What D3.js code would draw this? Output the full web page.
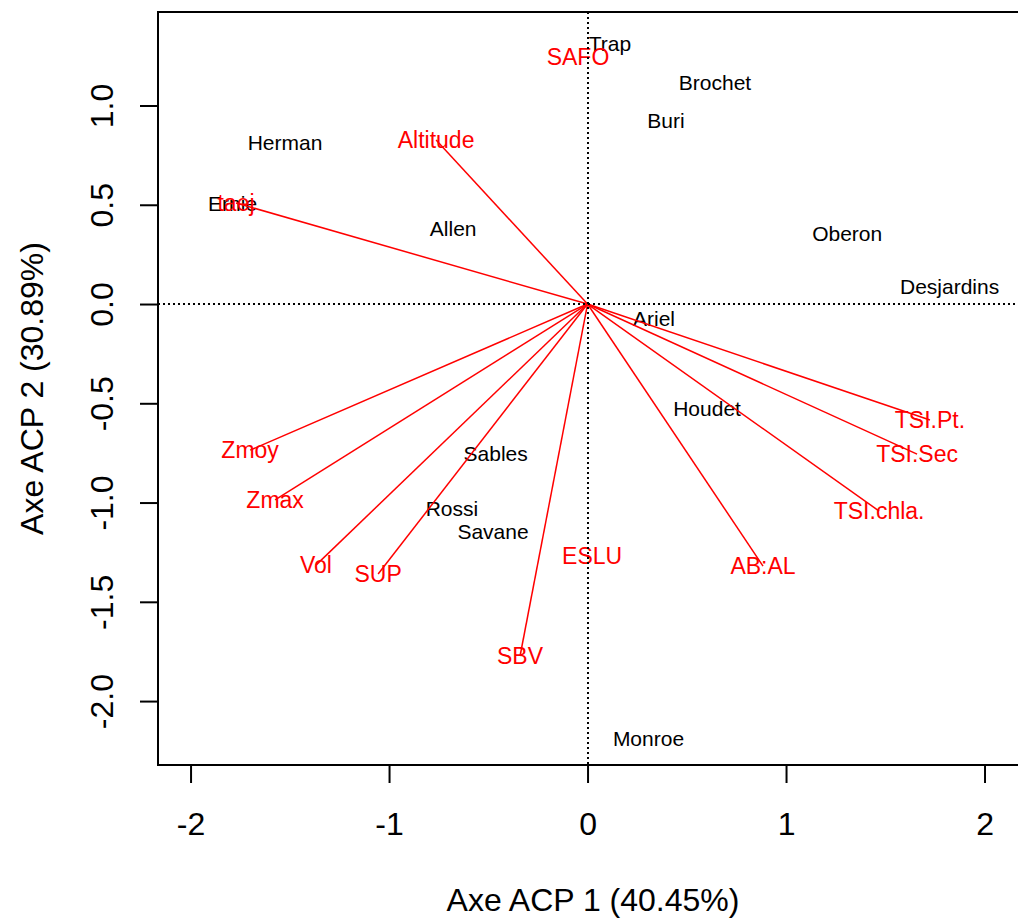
<!DOCTYPE html>
<html>
<head>
<meta charset="utf-8">
<script src="https://cdn.jsdelivr.net/npm/d3@7"></script>
<style>
    body { margin: 0; background: #fff; }
    svg { display: block; font-family: "Liberation Sans", Arial, sans-serif; }
</style>
</head>
<body>
<div id="chart-area"></div>
<script>
// Lake scores on the first two axes
let lakes = ["Trap", "Brochet", "Buri", "Herman", "Ernie", "Allen", "Oberon", "Desjardins",
    "Ariel", "Houdet", "Sables", "Rossi", "Savane", "Monroe"];
let lakeX = [0.113, 0.642, 0.395, -1.524, -1.788, -0.677, 1.308, 1.824,
    0.335, 0.602, -0.463, -0.683, -0.476, 0.307];
let lakeY = [1.315, 1.118, 0.927, 0.816, 0.509, 0.383, 0.358, 0.091,
    -0.071, -0.524, -0.753, -1.030, -1.146, -2.186];

// Variable loadings (drawn as lines from the origin)
let variables = ["Altitude", "taej", "Zmoy", "Zmax", "Vol", "SUP", "SBV", "AB:AL",
    "TSI.chla.", "TSI.Sec", "TSI.Pt."];
let varX = [-0.763, -1.771, -1.700, -1.574, -1.368, -1.055, -0.340, 0.884, 1.469, 1.660, 1.725];
let varY = [0.826, 0.509, -0.736, -0.987, -1.315, -1.360, -1.773, -1.320, -1.043, -0.756, -0.584];

// Variables shown only as labels
let labelOnly = ["SAFO", "ESLU"];
let labelOnlyX = [-0.048, 0.023];
let labelOnlyY = [1.244, -1.270];

// Axis limits and ticks
let xLimits = [-2.164, 2.219];
let yLimits = [-2.322, 1.471];
let xTicks = [-2, -1, 0, 1, 2];
let yTicks = [-2.0, -1.5, -1.0, -0.5, 0.0, 0.5, 1.0];

let margin = {top: 12, right: -10, bottom: 153, left: 158};
let width = 1018 - margin.left - margin.right;
let height = 918 - margin.top - margin.bottom;

let svg = d3.select("#chart-area").append("svg")
    .attr("width", 1018)
    .attr("height", 918)
    .append("g")
    .attr("transform", "translate(" + margin.left + "," + margin.top + ")");

let xScale = d3.scaleLinear().domain(xLimits).range([0, width]);
let yScale = d3.scaleLinear().domain(yLimits).range([height, 0]);

// Axes
let xAxis = d3.axisBottom(xScale)
    .tickValues(xTicks)
    .tickSize(18)
    .tickFormat(d => String(d));

let yAxis = d3.axisLeft(yScale)
    .tickValues(yTicks)
    .tickSize(18)
    .tickFormat(d => d.toFixed(1));

let gx = svg.append("g")
    .attr("class", "x-axis")
    .attr("transform", "translate(0," + height + ")")
    .call(xAxis);
gx.select(".domain").remove();
gx.selectAll("line").attr("stroke", "#000").attr("stroke-width", 2);
gx.selectAll("text")
    .attr("y", 70)
    .attr("dy", null)
    .attr("fill", "#000")
    .style("font-size", "32px");

let gy = svg.append("g")
    .attr("class", "y-axis")
    .call(yAxis);
gy.select(".domain").remove();
gy.selectAll("line").attr("stroke", "#000").attr("stroke-width", 2);
gy.selectAll("text")
    .attr("x", null)
    .attr("dy", null)
    .attr("text-anchor", "middle")
    .attr("transform", "translate(-45,0) rotate(-90)")
    .attr("fill", "#000")
    .style("font-size", "32px");

// Axis titles
svg.append("text")
    .attr("x", width / 2)
    .attr("y", height + 146)
    .attr("text-anchor", "middle")
    .style("font-size", "32px")
    .text("Axe ACP 1 (40.45%)");

svg.append("text")
    .attr("transform", "translate(-115," + (height / 2) + ") rotate(-90)")
    .attr("text-anchor", "middle")
    .style("font-size", "32px")
    .text("Axe ACP 2 (30.89%)");

// Lake labels
svg.selectAll(".lake")
    .data(lakes)
    .enter()
    .append("text")
    .attr("class", "lake")
    .attr("x", (d, i) => xScale(lakeX[i]))
    .attr("y", (d, i) => yScale(lakeY[i]))
    .attr("dy", "0.36em")
    .attr("text-anchor", "middle")
    .attr("fill", "#000")
    .style("font-size", "21px")
    .text(d => d);

// Variable labels
svg.selectAll(".var-label")
    .data(variables)
    .enter()
    .append("text")
    .attr("class", "var-label")
    .attr("x", (d, i) => xScale(varX[i]))
    .attr("y", (d, i) => yScale(varY[i]))
    .attr("dy", "0.36em")
    .attr("text-anchor", "middle")
    .attr("fill", "#ff0000")
    .style("font-size", "23px")
    .text(d => d);

svg.selectAll(".sup-label")
    .data(labelOnly)
    .enter()
    .append("text")
    .attr("class", "sup-label")
    .attr("x", (d, i) => xScale(labelOnlyX[i]))
    .attr("y", (d, i) => yScale(labelOnlyY[i]))
    .attr("dy", "0.36em")
    .attr("text-anchor", "middle")
    .attr("fill", "#ff0000")
    .style("font-size", "23px")
    .text(d => d);

// Loading lines
svg.selectAll(".arrow")
    .data(variables)
    .enter()
    .append("line")
    .attr("class", "arrow")
    .attr("x1", xScale(0))
    .attr("y1", yScale(0))
    .attr("x2", (d, i) => xScale(varX[i]))
    .attr("y2", (d, i) => yScale(varY[i]))
    .attr("stroke", "#ff0000")
    .attr("stroke-width", 1.5);

// Dotted reference lines (snapped to whole pixels so they stay crisp)
let x0 = Math.round(xScale(0));
let y0 = Math.round(yScale(0));

svg.append("line")
    .attr("x1", 0).attr("x2", width)
    .attr("y1", y0).attr("y2", y0)
    .attr("stroke", "#000")
    .attr("stroke-width", 2)
    .attr("stroke-dasharray", "2,3");

svg.append("line")
    .attr("x1", x0).attr("x2", x0)
    .attr("y1", 0).attr("y2", height)
    .attr("stroke", "#000")
    .attr("stroke-width", 2)
    .attr("stroke-dasharray", "2,3");

// Plot box
svg.append("rect")
    .attr("x", 0)
    .attr("y", 0)
    .attr("width", width)
    .attr("height", height)
    .attr("fill", "none")
    .attr("stroke", "#000")
    .attr("stroke-width", 2);
</script>
</body>
</html>
